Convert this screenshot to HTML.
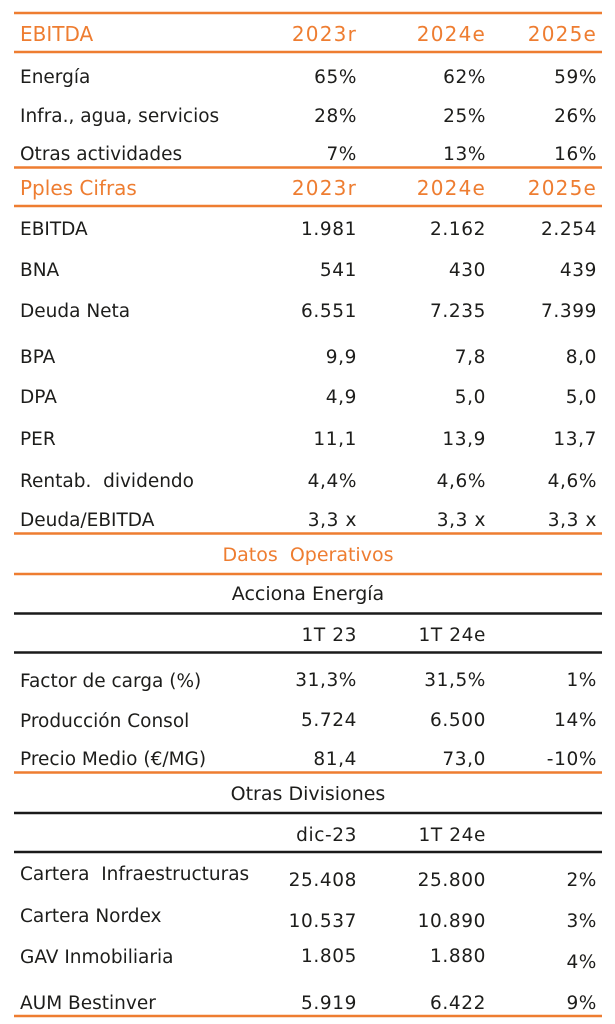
<!DOCTYPE html>
<html>
<head>
<meta charset="utf-8">
<style>
html,body{margin:0;padding:0;background:#fff;}
svg{display:block;}
text{font-family:"DejaVu Sans","Liberation Sans",sans-serif;}
.b{font-size:18.5px;fill:#1d1d1b;}
.n{font-size:18.5px;fill:#1d1d1b;letter-spacing:0.6px;}
.h{font-size:20px;fill:#ee7d31;}
.hn{font-size:20px;fill:#ee7d31;letter-spacing:1.2px;}
.s{font-size:19px;fill:#1d1d1b;}
.e{text-anchor:end;}
.m{text-anchor:middle;}
</style>
</head>
<body>
<svg width="615" height="1024" viewBox="0 0 615 1024" xmlns="http://www.w3.org/2000/svg">
<g stroke-width="2.5">
<line x1="14" y1="13" x2="602" y2="13" stroke="#ee7d31"/>
<line x1="14" y1="52" x2="602" y2="52" stroke="#ee7d31"/>
<line x1="14" y1="167.5" x2="602" y2="167.5" stroke="#ee7d31"/>
<line x1="14" y1="206" x2="602" y2="206" stroke="#ee7d31"/>
<line x1="14" y1="533.5" x2="602" y2="533.5" stroke="#ee7d31"/>
<line x1="14" y1="574" x2="602" y2="574" stroke="#ee7d31"/>
<line x1="14" y1="613.5" x2="602" y2="613.5" stroke="#1a1a1a"/>
<line x1="14" y1="652.5" x2="602" y2="652.5" stroke="#1a1a1a"/>
<line x1="14" y1="772.5" x2="602" y2="772.5" stroke="#ee7d31"/>
<line x1="14" y1="813" x2="602" y2="813" stroke="#1a1a1a"/>
<line x1="14" y1="852" x2="602" y2="852" stroke="#1a1a1a"/>
<line x1="14" y1="1016" x2="602" y2="1016" stroke="#ee7d31"/>
</g>

<text class="h" x="20" y="41">EBITDA</text>
<text class="hn e" x="357" y="41">2023r</text>
<text class="hn e" x="486" y="41">2024e</text>
<text class="hn e" x="597" y="41">2025e</text>

<text class="b" x="20" y="83">Energía</text>
<text class="n e" x="357" y="83">65%</text>
<text class="n e" x="486" y="83">62%</text>
<text class="n e" x="597" y="83">59%</text>

<text class="b" x="20" y="122">Infra., agua, servicios</text>
<text class="n e" x="357" y="122">28%</text>
<text class="n e" x="486" y="122">25%</text>
<text class="n e" x="597" y="122">26%</text>

<text class="b" x="20" y="160">Otras actividades</text>
<text class="n e" x="357" y="160">7%</text>
<text class="n e" x="486" y="160">13%</text>
<text class="n e" x="597" y="160">16%</text>

<text class="h" x="20" y="195">Pples Cifras</text>
<text class="hn e" x="357" y="195">2023r</text>
<text class="hn e" x="486" y="195">2024e</text>
<text class="hn e" x="597" y="195">2025e</text>

<text class="b" x="20" y="235">EBITDA</text>
<text class="n e" x="357" y="235">1.981</text>
<text class="n e" x="486" y="235">2.162</text>
<text class="n e" x="597" y="235">2.254</text>

<text class="b" x="20" y="276">BNA</text>
<text class="n e" x="357" y="276">541</text>
<text class="n e" x="486" y="276">430</text>
<text class="n e" x="597" y="276">439</text>

<text class="b" x="20" y="317">Deuda Neta</text>
<text class="n e" x="357" y="317">6.551</text>
<text class="n e" x="486" y="317">7.235</text>
<text class="n e" x="597" y="317">7.399</text>

<text class="b" x="20" y="363">BPA</text>
<text class="n e" x="357" y="363">9,9</text>
<text class="n e" x="486" y="363">7,8</text>
<text class="n e" x="597" y="363">8,0</text>

<text class="b" x="20" y="403">DPA</text>
<text class="n e" x="357" y="403">4,9</text>
<text class="n e" x="486" y="403">5,0</text>
<text class="n e" x="597" y="403">5,0</text>

<text class="b" x="20" y="445">PER</text>
<text class="n e" x="357" y="445">11,1</text>
<text class="n e" x="486" y="445">13,9</text>
<text class="n e" x="597" y="445">13,7</text>

<text class="b" x="20" y="487" xml:space="preserve">Rentab.  dividendo</text>
<text class="n e" x="357" y="487">4,4%</text>
<text class="n e" x="486" y="487">4,6%</text>
<text class="n e" x="597" y="487">4,6%</text>

<text class="b" x="20" y="526">Deuda/EBITDA</text>
<text class="n e" x="357" y="526">3,3 x</text>
<text class="n e" x="486" y="526">3,3 x</text>
<text class="n e" x="597" y="526">3,3 x</text>

<text class="s m" x="308" y="561" style="fill:#ee7d31" xml:space="preserve">Datos  Operativos</text>
<text class="s m" x="308" y="600">Acciona Energía</text>
<text class="n e" x="357" y="641">1T 23</text>
<text class="n e" x="486" y="641">1T 24e</text>

<text class="b" x="20" y="687">Factor de carga (%)</text>
<text class="n e" x="357" y="686">31,3%</text>
<text class="n e" x="486" y="686">31,5%</text>
<text class="n e" x="597" y="686">1%</text>

<text class="b" x="20" y="727">Producción Consol</text>
<text class="n e" x="357" y="726">5.724</text>
<text class="n e" x="486" y="726">6.500</text>
<text class="n e" x="597" y="726">14%</text>

<text class="b" x="20" y="765">Precio Medio (€/MG)</text>
<text class="n e" x="357" y="765">81,4</text>
<text class="n e" x="486" y="765">73,0</text>
<text class="n e" x="597" y="765">-10%</text>

<text class="s m" x="308" y="800">Otras Divisiones</text>
<text class="n e" x="357" y="841">dic-23</text>
<text class="n e" x="486" y="841">1T 24e</text>

<text class="b" x="20" y="880" xml:space="preserve">Cartera  Infraestructuras</text>
<text class="n e" x="357" y="886">25.408</text>
<text class="n e" x="486" y="886">25.800</text>
<text class="n e" x="597" y="886">2%</text>

<text class="b" x="20" y="922">Cartera Nordex</text>
<text class="n e" x="357" y="927">10.537</text>
<text class="n e" x="486" y="927">10.890</text>
<text class="n e" x="597" y="927">3%</text>

<text class="b" x="20" y="963">GAV Inmobiliaria</text>
<text class="n e" x="357" y="962">1.805</text>
<text class="n e" x="486" y="962">1.880</text>
<text class="n e" x="597" y="968">4%</text>

<text class="b" x="20" y="1009">AUM Bestinver</text>
<text class="n e" x="357" y="1009">5.919</text>
<text class="n e" x="486" y="1009">6.422</text>
<text class="n e" x="597" y="1009">9%</text>
</svg>
</body>
</html>
